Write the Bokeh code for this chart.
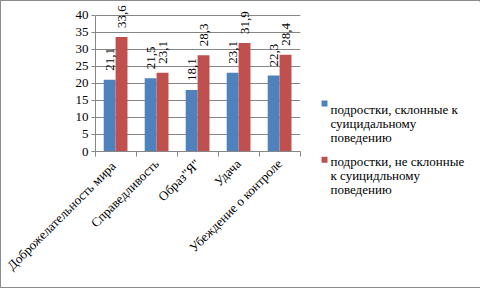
import math
from bokeh.plotting import figure
from bokeh.layouts import row
from bokeh.models import (ColumnDataSource, FixedTicker, LabelSet, Range1d)
from bokeh.embed import file_html
from bokeh.resources import INLINE
from bokeh.core.properties import value

# ---- data ----
categories = ["Доброжелательность  мира", "Справедливость", 'Образ"Я"',
              "Удача", "Убеждение о контроле"]
prone = [21.1, 21.5, 18.1, 23.1, 22.3]
not_prone = [33.6, 23.1, 28.3, 31.9, 28.4]
legend_prone = ["подростки, склонные к", "суицидальному", "поведению"]
legend_not_prone = ["подростки, не склонные", "к суицидльному", "поведению"]
y_ticks = [0, 5, 10, 15, 20, 25, 30, 35, 40]

BLUE = "#4F81BD"
RED = "#C0504D"
GRID = "#868686"
FONT = "Liberation Serif"

W, H = 300, 288
LW = 180
# frame placement (canvas px); value axis 0..40 spans canvas y 152..14
FL, FR, FB = 94, 299, 152
TOP40 = 14
YMAX = 40
NCAT = len(categories)
# frame extends to the canvas top so that the value labels are not clipped
YTOP = YMAX * FB / (FB - TOP40)

p = figure(width=W, height=H, x_range=Range1d(0, NCAT), y_range=Range1d(0, YTOP),
           output_backend="svg", toolbar_location=None,
           min_border_left=FL, min_border_right=W - FR,
           min_border_top=0, min_border_bottom=H - FB)
p.frame_align = False
p.outline_line_color = None
p.background_fill_color = "white"
p.border_fill_color = "white"

centers = [i + 0.49 for i in range(NCAT)]
off = 0.145
bw = 0.29

def fmt(v):
    return f"{v:.1f}".replace(".", ",")

src_a = ColumnDataSource(dict(x=[c - off for c in centers], top=prone,
                              lab=[fmt(v) for v in prone]))
src_b = ColumnDataSource(dict(x=[c + off for c in centers], top=not_prone,
                              lab=[fmt(v) for v in not_prone]))

p.vbar(x="x", top="top", bottom=0, width=bw, source=src_a,
       fill_color=BLUE, line_color=None)
p.vbar(x="x", top="top", bottom=0, width=bw, source=src_b,
       fill_color=RED, line_color=None)

for src in (src_a, src_b):
    p.add_layout(LabelSet(x="x", y="top", text="lab", source=src,
                          angle=90, angle_units="deg", y_offset=9,
                          text_align="left", text_baseline="middle",
                          text_font=FONT, text_font_size="13px",
                          text_color="black"))

# axes
p.yaxis.ticker = FixedTicker(ticks=y_ticks)
p.yaxis.bounds = (0, YMAX)
p.yaxis.axis_line_color = GRID
p.yaxis.major_tick_line_color = GRID
p.yaxis.major_tick_in = 0
p.yaxis.major_tick_out = 4
p.yaxis.minor_tick_line_color = None
p.yaxis.major_label_text_font = FONT
p.yaxis.major_label_text_font_size = "13px"
p.yaxis.major_label_text_color = "black"
p.yaxis.major_label_standoff = 3

p.xaxis.ticker = FixedTicker(ticks=centers, minor_ticks=list(range(NCAT + 1)))
p.xaxis.major_label_overrides = {c: cat for c, cat in zip(centers, categories)}
p.xaxis.axis_line_color = GRID
p.xaxis.major_tick_line_color = None
p.xaxis.minor_tick_line_color = GRID
p.xaxis.minor_tick_in = 0
p.xaxis.minor_tick_out = 5
p.xaxis.major_label_orientation = math.pi / 4
p.xaxis.major_label_text_font = FONT
p.xaxis.major_label_text_font_size = "13px"
p.xaxis.major_label_text_color = "black"
p.xaxis.major_label_standoff = 4

p.xgrid.visible = False
p.ygrid.ticker = FixedTicker(ticks=y_ticks)
p.ygrid.grid_line_color = GRID

# ---- legend panel: a second figure whose data units are pixels from top-left ----
lg = figure(width=LW, height=H, x_range=Range1d(0, LW), y_range=Range1d(H, 0),
            output_backend="svg", toolbar_location=None,
            min_border=0, min_border_left=0, min_border_right=0,
            min_border_top=0, min_border_bottom=0)
lg.frame_align = False
lg.axis.visible = False
lg.grid.visible = False
lg.outline_line_color = None
lg.background_fill_color = "white"
lg.border_fill_color = "white"

def legend_entry(color, lines, sq_top, base0):
    lg.quad(left=20, right=26, top=sq_top, bottom=sq_top + 6,
            fill_color=color, line_color=None)
    lg.text(x=[29] * len(lines), y=[base0 + k * 14.3 for k in range(len(lines))],
            text=lines, text_font=value(FONT), text_font_size="13px",
            text_baseline="alphabetic", text_align="left", text_color="black")

legend_entry(BLUE, legend_prone, 99.7, 108.3)
legend_entry(RED, legend_not_prone, 156.3, 160.7)

lay = row(p, lg, spacing=0)
lay.styles = {"border": "1px solid #8c8c8c", "width": "480px", "height": "288px"}

open("out.html", "w").write(file_html(lay, INLINE))
